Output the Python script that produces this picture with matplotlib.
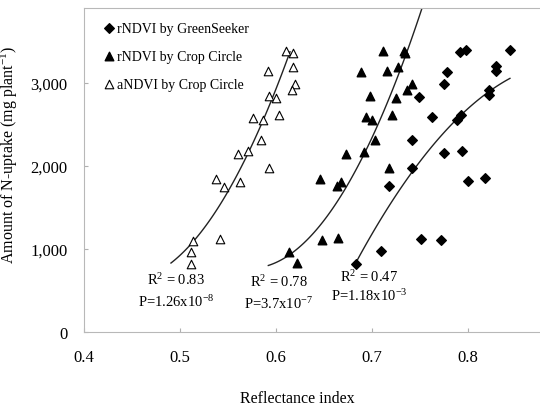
import numpy as np
import matplotlib
matplotlib.use('Agg')
from matplotlib import pyplot as plt
from matplotlib.ticker import StrMethodFormatter

plt.rcParams['font.family'] = ['Liberation Serif', 'DejaVu Serif']
plt.rcParams['mathtext.fontset'] = 'custom'
plt.rcParams['mathtext.rm'] = 'Liberation Serif'
plt.rcParams['mathtext.it'] = 'Liberation Serif:italic'

# rNDVI by GreenSeeker (filled diamonds)
gs_x = [0.792, 0.798, 0.844, 0.778, 0.829, 0.829, 0.775, 0.749, 0.822, 0.822, 0.762, 0.789,
        0.793, 0.742, 0.775, 0.794, 0.742, 0.800, 0.818, 0.751, 0.772, 0.718, 0.709, 0.683]
gs_y = [3370, 3398, 3398, 3137, 3209, 3141, 2988, 2828, 2920, 2856, 2594, 2555,
        2619, 2317, 2153, 2185, 1972, 1823, 1852, 1121, 1109, 1756, 980, 819]

# rNDVI by Crop Circle (filled triangles)
cc_r_x = [0.711, 0.733, 0.734, 0.689, 0.716, 0.727, 0.736, 0.742, 0.698, 0.725, 0.694, 0.700,
          0.721, 0.703, 0.673, 0.692, 0.718, 0.646, 0.668, 0.664, 0.648, 0.665, 0.614, 0.622]
cc_r_y = [3390, 3390, 3362, 3129, 3141, 3197, 2920, 2988, 2848, 2820, 2587, 2555,
          2615, 2313, 2145, 2173, 1972, 1844, 1811, 1756, 1112, 1129, 968, 831]

# aNDVI by Crop Circle (open triangles)
cc_a_x = [0.610, 0.618, 0.592, 0.618, 0.593, 0.600, 0.620, 0.617, 0.576, 0.586, 0.603,
          0.584, 0.560, 0.571, 0.593, 0.5375, 0.5455, 0.5625, 0.514, 0.542, 0.5115, 0.5115]
cc_a_y = [3390, 3362, 3141, 3197, 2848, 2816, 2988, 2920, 2579, 2555, 2615,
          2317, 2145, 2177, 1972, 1844, 1743, 1811, 1100, 1121, 968, 819]

# points
trend_a_x = [0.4906, 0.5135, 0.5625, 0.571, 0.586, 0.600, 0.6146]
trend_a_y = [819, 1100, 1964, 2177, 2555, 2820, 3440]
trend_r_x = [0.592, 0.614, 0.6805, 0.6917, 0.703, 0.722, 0.738, 0.752]
trend_r_y = [759, 980, 1964, 2173, 2313, 2830, 3530, 3900]
trend_gs_x = [0.684, 0.7292, 0.742, 0.789, 0.7935, 0.822, 0.8437]
trend_gs_y = [847, 1703, 1972, 2555, 2619, 2888, 3069]

labels = ['rNDVI by GreenSeeker', 'rNDVI by Crop Circle', 'aNDVI by Crop Circle']
stats = [('R$^{2}$ = 0.83', 'P=1.26x10$^{-8}$', 0.4958, 640, 375),
         ('R$^{2}$ = 0.78', 'P=3.7x10$^{-7}$', 0.603, 615, 350),
         ('R$^{2}$ = 0.47', 'P=1.18x10$^{-3}$', 0.697, 680, 445)]

fig = plt.figure(figsize=(5.4, 4.06), dpi=100)
ax = fig.add_axes([84 / 540, 1 - 333 / 406, 456 / 540, 324 / 406])

ax.scatter(gs_x, gs_y, marker='D', s=24, c='black', label=labels[0], zorder=3)
ax.scatter(cc_r_x, cc_r_y, marker='^', s=38, c='black', label=labels[1], zorder=3)
ax.scatter(cc_a_x, cc_a_y, marker='^', s=38, facecolors='white', edgecolors='black',
           linewidths=0.8, label=labels[2], zorder=3)

for tx, ty in [(trend_a_x, trend_a_y), (trend_r_x, trend_r_y), (trend_gs_x, trend_gs_y)]:
    coef = np.polyfit(tx, ty, 2)
    xs = np.linspace(min(tx), max(tx), 100)
    ax.plot(xs, np.polyval(coef, xs), color='#222222', lw=1.0, zorder=2)

for r2, p, x, yr, yp in stats:
    ax.text(x, yr, r2, ha='center', va='center', fontsize=10.5)
    ax.text(x, yp, p, ha='center', va='center', fontsize=10.5)

ax.set_xlim(0.4, 0.875)
ax.set_ylim(0, 3904)
ax.set_xticks([0.4, 0.5, 0.6, 0.7, 0.8])
ax.set_xticklabels(['0.4', '0.5', '0.6', '0.7', '0.8'])
ax.set_yticks([0, 1000, 2000, 3000])
ax.yaxis.set_major_formatter(StrMethodFormatter('{x:,.0f}'))
ax.tick_params(axis='both', direction='in', length=3, color='#b0b0b0', labelsize=12, pad=12)

for side in ['left', 'bottom', 'top']:
    ax.spines[side].set_color('#b8b8b8')
ax.spines['right'].set_visible(False)

ax.set_xlabel('Reflectance index', fontsize=11.5)
ax.xaxis.set_label_coords(0.467, -0.18)
ax.set_ylabel('Amount of N-uptake (mg plant$^{-1}$)', fontsize=11.5)
ax.yaxis.set_label_coords(-0.14, 0.549)

ax.legend(loc='upper left', bbox_to_anchor=(0.015, 1.0), frameon=False, fontsize=10,
          handlelength=0.6, handletextpad=0.3, labelspacing=1.08, borderaxespad=0.6,
          scatterpoints=1)

fig.savefig('out.png', dpi=100)
